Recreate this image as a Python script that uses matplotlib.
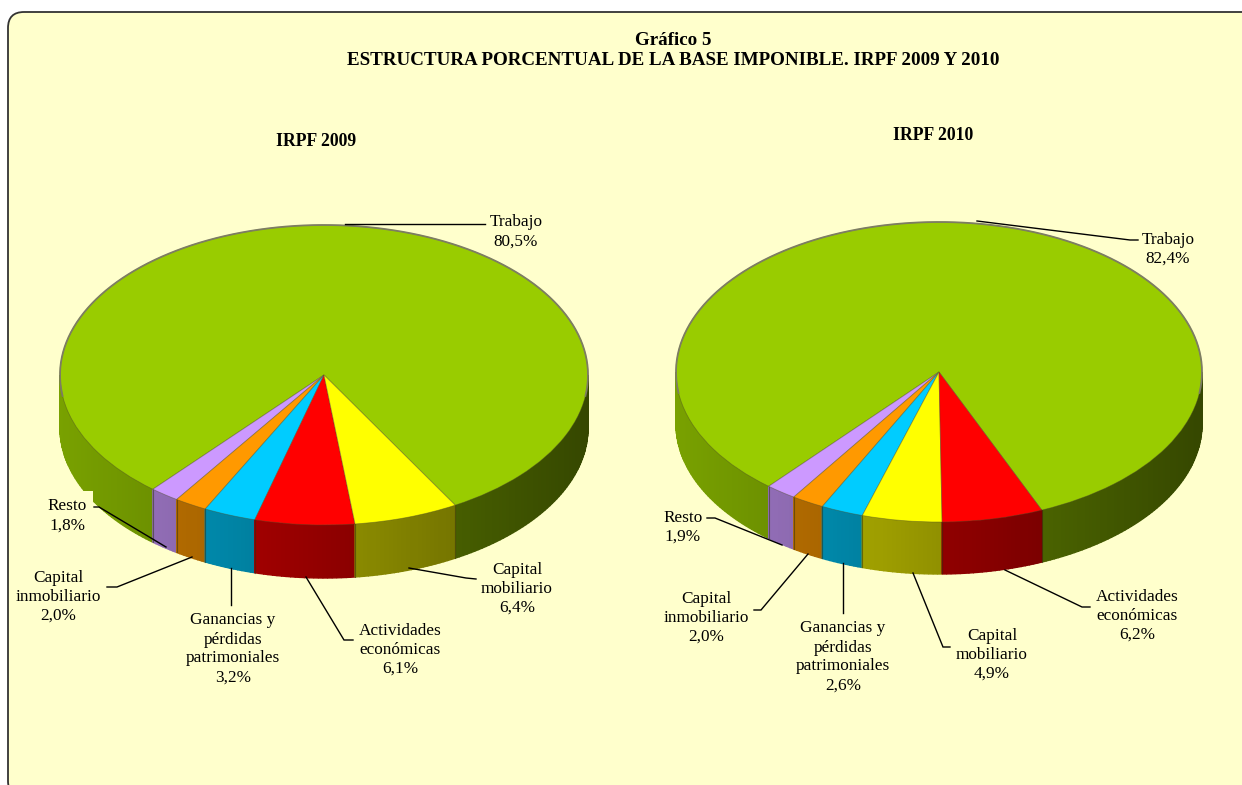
import numpy as np
import matplotlib
matplotlib.use('Agg')
import matplotlib.pyplot as plt
from matplotlib.colors import to_rgb
from matplotlib.patches import FancyBboxPatch, Rectangle

W, H = 1242, 785

categorias_2009 = ['Trabajo', 'Resto', 'Capital\ninmobiliario', 'Ganancias y\npérdidas\npatrimoniales',
                   'Actividades\neconómicas', 'Capital\nmobiliario']
valores_2009 = [80.5, 1.8, 2.0, 3.2, 6.1, 6.4]
colores_2009 = ['#99CC00', '#CC99FF', '#FF9900', '#00CCFF', '#FF0000', '#FFFF00']

categorias_2010 = ['Trabajo', 'Resto', 'Capital\ninmobiliario', 'Ganancias y\npérdidas\npatrimoniales',
                   'Capital\nmobiliario', 'Actividades\neconómicas']
valores_2010 = [82.4, 1.9, 2.0, 2.6, 4.9, 6.2]
colores_2010 = ['#99CC00', '#CC99FF', '#FF9900', '#00CCFF', '#FFFF00', '#FF0000']

# posición de las etiquetas en píxeles (centro x, centro y)
pos_2009 = [(516, 232), (67, 516), (58, 597), (233, 649), (400, 650), (517, 589)]
pos_2010 = [(1168, 249), (683, 527), (706, 618), (843, 657), (992, 655), (1137, 616)]

# líneas guía en píxeles
guias_2009 = [[(345, 224), (485, 224)],
              [(94, 507), (99, 507), (166, 547)],
              [(107, 587), (117, 587), (192, 557)],
              [(231, 568), (231, 605)],
              [(353, 640), (344, 640), (306, 577)],
              [(476, 579), (466, 578), (409, 568)]]
guias_2010 = [[(977, 221), (1130, 240), (1138, 240)],
              [(707, 518), (715, 518), (782, 545)],
              [(754, 610), (761, 610), (808, 554)],
              [(843, 563), (843, 613)],
              [(950, 647), (943, 647), (913, 573)],
              [(1090, 607), (1082, 607), (1005, 570)]]

FONDO = '#FFFFCC'
plt.rcParams['font.family'] = ['Liberation Serif', 'DejaVu Serif']


def sombra(x):
    # el lateral se oscurece de izquierda a derecha
    return 0.57 - 0.22 * x


def tarta(fig, cx, cy, rx, ry, prof, valores, colores, inicio):
    d = prof / ry
    ax = fig.add_axes([(cx - rx) / W, 1 - (cy + ry + prof) / H, 2 * rx / W, (2 * ry + prof) / H], zorder=1)
    wedges, _ = ax.pie(valores, colors=colores, startangle=inicio, counterclock=True, radius=1,
                       wedgeprops={'edgecolor': (0.3, 0.3, 0.15, 0.45), 'linewidth': 0.6})
    ax.set_aspect('auto')
    ax.set_xlim(-1, 1)
    ax.set_ylim(-1 - d, 1)
    ax.axis('off')
    for w, color in zip(wedges, colores):
        w.set_clip_on(False)
        w.set_zorder(5)
        rgb = np.array(to_rgb(color))
        angulos = np.linspace(w.theta1, w.theta2, int(w.theta2 - w.theta1) + 2)
        for a1, a2 in zip(angulos[:-1], angulos[1:]):
            t1, t2 = np.radians([a1, a2])
            if np.sin(t1) > 0.005 and np.sin(t2) > 0.005:
                continue
            x1, x2 = np.cos(t1), np.cos(t2)
            y1, y2 = min(np.sin(t1), 0), min(np.sin(t2), 0)
            c = rgb * sombra((x1 + x2) / 2)
            ax.fill([x1, x2, x2, x1], [y1, y2, y2 - d, y1 - d], color=c, lw=1.0, zorder=2, clip_on=False)
        for a in (w.theta1, w.theta2):
            t = np.radians(a)
            if np.sin(t) < 0:
                ax.plot([np.cos(t)] * 2, [np.sin(t), np.sin(t) - d], color='#303010', alpha=0.3,
                        lw=0.8, zorder=3)
    # borde gris de la parte trasera
    t = np.radians(np.linspace(-8, 188, 200))
    ax.plot(np.cos(t), np.sin(t), color='#7d7d62', lw=1.3, zorder=6, clip_on=False)
    return ax


fig = plt.figure(figsize=(W / 100, H / 100), dpi=100, facecolor='white')

fondo = fig.add_axes([0, 0, 1, 1], zorder=0)
fondo.set_xlim(0, W)
fondo.set_ylim(H, 0)
fondo.axis('off')
fondo.add_patch(FancyBboxPatch((8, 12), 1290, 785, boxstyle='round,pad=0,rounding_size=16',
                               facecolor=FONDO, edgecolor='#333333', linewidth=1.3))

tarta(fig, 324, 375, 264, 150, 53, valores_2009, colores_2009, -60.2)
tarta(fig, 939, 372, 263, 150, 52, valores_2010, colores_2010, -67.0)

capa = fig.add_axes([0, 0, 1, 1], zorder=2)
capa.patch.set_alpha(0)
capa.set_xlim(0, W)
capa.set_ylim(H, 0)
capa.axis('off')

capa.add_patch(Rectangle((60, 491), 33, 40, facecolor=FONDO, edgecolor='none'))

for guias in (guias_2009, guias_2010):
    for g in guias:
        capa.plot([p[0] for p in g], [p[1] for p in g], color='black', lw=1.0, solid_joinstyle='miter')

for cats, vals, pos in ((categorias_2009, valores_2009, pos_2009), (categorias_2010, valores_2010, pos_2010)):
    for c, v, (x, y) in zip(cats, vals, pos):
        txt = f'{c}\n{v:.1f}%'.replace('.', ',')
        capa.text(x, y, txt, ha='center', va='center', fontsize=12.4, linespacing=1.25, color='black')

capa.text(673, 50.5, 'Gráfico 5\nESTRUCTURA PORCENTUAL DE LA BASE IMPONIBLE. IRPF 2009 Y 2010',
          ha='center', va='center', fontsize=13.7, fontweight='bold', linespacing=1.3)
capa.text(316, 141, 'IRPF 2009', ha='center', va='center', fontsize=12.7, fontweight='bold')
capa.text(933, 136, 'IRPF 2010', ha='center', va='center', fontsize=12.7, fontweight='bold')

fig.savefig('out.png', dpi=100)
